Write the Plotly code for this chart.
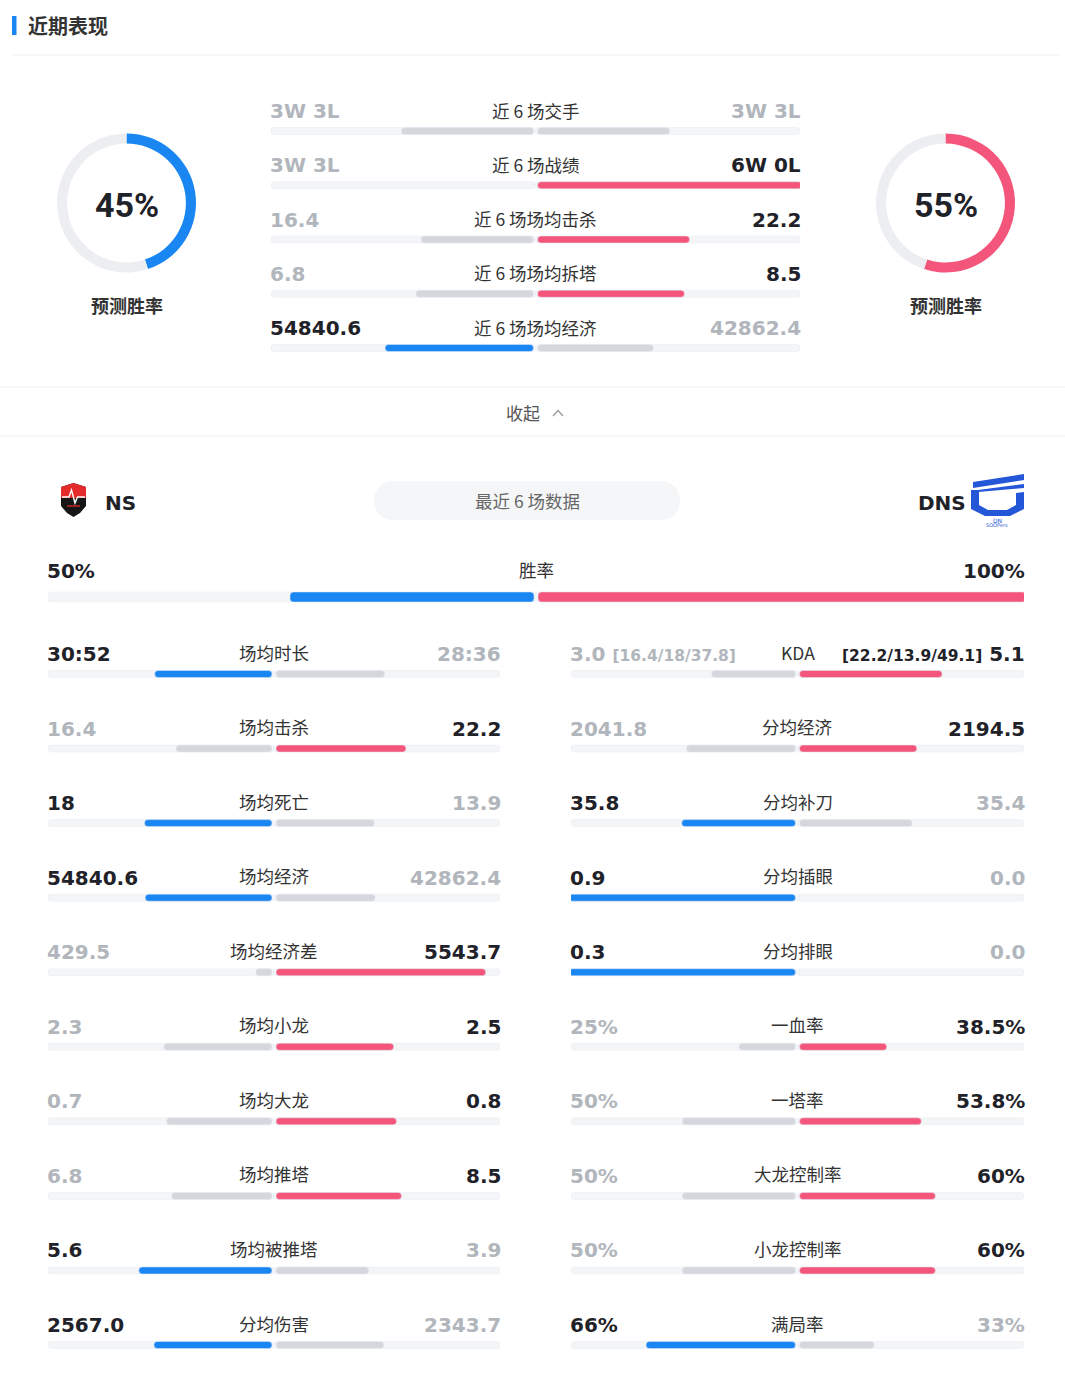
import plotly.graph_objects as go

W, H = 1065, 1375
BLUE = "#1a86f2"
PINK = "#f4557a"
GRAYBAR = "#d5d7dc"
TRACK = "#f4f5f7"
DARK = "#1f2228"
MUTED = "#b1b5bc"
LABEL = "#333333"
RING = "#eceef2"
NUMFONT = "DejaVu Sans"
CJK = "Noto Sans CJK SC"

# ---------------- data ----------------
title = "近期表现"
pred_ns = [45, 55]      # NS predicted win rate, rest
pred_dns = [55, 45]     # DNS predicted win rate, rest

top_labels = ["近 6 场交手", "近 6 场战绩", "近 6 场场均击杀", "近 6 场场均拆塔", "近 6 场场均经济"]
top_left_text = ["3W 3L", "3W 3L", "16.4", "6.8", "54840.6"]
top_right_text = ["3W 3L", "6W 0L", "22.2", "8.5", "42862.4"]
# W/L rows use net wins (W-L); other rows use the averages
top_left_value = [0, 0, 16.4, 6.8, 54840.6]
top_right_value = [0, 6, 22.2, 8.5, 42862.4]
top_mode = ["share"] * 5

team_left = "NS"
team_right = "DNS"
pill_text = "最近 6 场数据"

win_label = ["胜率"]
win_left = [50]
win_right = [100]
win_left_text = ["50%"]
win_right_text = ["100%"]

left_labels = ["场均时长", "场均击杀", "场均死亡", "场均经济", "场均经济差",
               "场均小龙", "场均大龙", "场均推塔", "场均被推塔", "分均伤害"]
left_ns = [1852, 16.4, 18, 54840.6, 429.5, 2.3, 0.7, 6.8, 5.6, 2567.0]
left_dns = [1716, 22.2, 13.9, 42862.4, 5543.7, 2.5, 0.8, 8.5, 3.9, 2343.7]
left_ns_text = ["30:52", "16.4", "18", "54840.6", "429.5", "2.3", "0.7", "6.8", "5.6", "2567.0"]
left_dns_text = ["28:36", "22.2", "13.9", "42862.4", "5543.7", "2.5", "0.8", "8.5", "3.9", "2343.7"]
left_mode = ["share"] * 10

right_labels = ["KDA", "分均经济", "分均补刀", "分均插眼", "分均排眼",
                "一血率", "一塔率", "大龙控制率", "小龙控制率", "满局率"]
right_ns = [3.0, 2041.8, 35.8, 0.9, 0.3, 25, 50, 50, 50, 66]
right_dns = [5.1, 2194.5, 35.4, 0.0, 0.0, 38.5, 53.8, 60, 60, 33]
right_ns_text = ["3.0", "2041.8", "35.8", "0.9", "0.3", "25%", "50%", "50%", "50%", "66%"]
right_dns_text = ["5.1", "2194.5", "35.4", "0.0", "0.0", "38.5%", "53.8%", "60%", "60%", "33%"]
right_mode = ["share"] * 5 + ["pct"] * 5
kda_ns_detail = "[16.4/18/37.8]"
kda_dns_detail = "[22.2/13.9/49.1]"

# ---------------- helpers ----------------
def pxx(x):
    return x / W


def pyy(y):
    return 1 - y / H


def shares(l, r, mode):
    if mode == "pct":
        return l / 100.0, r / 100.0
    s = l + r
    if s == 0:
        return 0.5, 0.5
    return l / s, r / s


fig = go.Figure()
annotations = []
shapes = []


def setup_axes(xi, yi, x0, x1, yc0=None, step=None, n=None):
    xk = "xaxis" if xi == 1 else f"xaxis{xi}"
    yk = "yaxis" if yi == 1 else f"yaxis{yi}"
    yref = "y" if yi == 1 else f"y{yi}"
    xref = "x" if xi == 1 else f"x{xi}"
    fig.layout[xk] = dict(domain=[pxx(x0), pxx(x1)], range=[-1, 1], visible=False,
                          fixedrange=True, anchor=yref)
    if yc0 is not None:
        top = max(0, yc0 - step / 2)
        bot = min(H, yc0 + step * (n - 1) + step / 2)
        fig.layout[yk] = dict(domain=[pyy(bot), pyy(top)],
                              range=[(bot - yc0) / step, (top - yc0) / step],
                              visible=False, fixedrange=True, anchor=xref)
    return xref, yref


def panel(xref, yref, half_px, step, thick, labels, lv, rv, ltxt, rtxt, modes,
          val_shift, lab_shift, both_colored=False, gap_px=2):
    n = len(labels)
    rows = list(range(n))
    gap = gap_px / half_px
    width = thick / step
    ls, rs, lc, rc, ltc, rtc = [], [], [], [], [], []
    for a, b, m in zip(lv, rv, modes):
        sa, sb = shares(a, b, m)
        ls.append(sa)
        rs.append(sb)
        if both_colored:
            lc.append(BLUE); rc.append(PINK); ltc.append(DARK); rtc.append(DARK)
        else:
            lc.append(BLUE if a > b else GRAYBAR)
            rc.append(PINK if b > a else GRAYBAR)
            ltc.append(DARK if a > b else MUTED)
            rtc.append(DARK if b > a else MUTED)
    common = dict(orientation="h", y=rows, width=[width] * n, xaxis=xref, yaxis=yref,
                  hoverinfo="skip", showlegend=False)
    fig.add_trace(go.Bar(x=[-1] * n, base=[0] * n, marker=dict(color=TRACK, cornerradius=3), **common))
    fig.add_trace(go.Bar(x=[1] * n, base=[0] * n, marker=dict(color=TRACK, cornerradius=3), **common))
    fig.add_trace(go.Bar(x=[-s for s in ls], base=[-gap] * n,
                         marker=dict(color=lc, cornerradius=3.5), **common))
    fig.add_trace(go.Bar(x=rs, base=[gap] * n,
                         marker=dict(color=rc, cornerradius=3.5), **common))
    for i in rows:
        annotations.append(dict(x=-1, y=i, xref=xref, yref=yref, xanchor="left", yanchor="middle",
                                yshift=val_shift, xshift=-3, text=ltxt[i], showarrow=False,
                                font=dict(family=NUMFONT, size=20, color=ltc[i], weight="bold")))
        annotations.append(dict(x=1, y=i, xref=xref, yref=yref, xanchor="right", yanchor="middle",
                                yshift=val_shift, xshift=3, text=rtxt[i], showarrow=False,
                                font=dict(family=NUMFONT, size=20, color=rtc[i], weight="bold")))
        annotations.append(dict(x=0, y=i, xref=xref, yref=yref, xanchor="center", yanchor="middle",
                                yshift=lab_shift, text=labels[i], showarrow=False,
                                font=dict(family=CJK, size=17.5, color=LABEL)))


# ---------------- top section ----------------
TOP_STEP = 54.25
x1r, y1r = setup_axes(1, 1, 271, 800, 131, TOP_STEP, 5)
panel(x1r, y1r, 264.5, TOP_STEP, 7, top_labels, top_left_value, top_right_value,
      top_left_text, top_right_text, top_mode, 20, 21)

# donuts
for vals, color, cx in [(pred_ns, BLUE, 126.5), (pred_dns, PINK, 945.5)]:
    r = 69.5
    fig.add_trace(go.Pie(values=vals, marker=dict(colors=[color, RING]), hole=0.855,
                         sort=False, direction="clockwise", textinfo="none",
                         hoverinfo="skip", showlegend=False,
                         domain=dict(x=[pxx(cx - r), pxx(cx + r)], y=[pyy(203 + r), pyy(203 - r)])))
    annotations.append(dict(x=pxx(cx), y=pyy(205), xref="paper", yref="paper", showarrow=False,
                            text=f"{vals[0]}%", xanchor="center", yanchor="middle",
                            font=dict(family="Roboto", size=34, color=DARK, weight="bold")))
    annotations.append(dict(x=pxx(cx), y=pyy(305), xref="paper", yref="paper", showarrow=False,
                            text="预测胜率", xanchor="center", yanchor="middle",
                            font=dict(family=CJK, size=18, color=LABEL, weight="bold")))

# ---------------- win-rate row ----------------
x2r, y2r = setup_axes(2, 2, 48, 1024, 597, 40, 1)
panel(x2r, y2r, 488, 40, 10, win_label, win_left, win_right, win_left_text, win_right_text,
      ["pct"], 26, 27, both_colored=True)

# ---------------- bottom panels ----------------
BOT_STEP = (1345 - 674) / 9
x3r, y3r = setup_axes(3, 3, 48, 500, 674, BOT_STEP, 10)
panel(x3r, y3r, 226, BOT_STEP, 7, left_labels, left_ns, left_dns, left_ns_text, left_dns_text,
      left_mode, 20, 22)
x4r, _ = setup_axes(4, 3, 571, 1024)
fig.layout["xaxis4"].anchor = "y3"
kda_l = right_ns_text[0] + f" <span style='font-size:15.5px'>{kda_ns_detail}</span>"
kda_r = f"<span style='font-size:15.5px'>{kda_dns_detail}</span> " + right_dns_text[0]
r_ltxt = [kda_l] + right_ns_text[1:]
r_rtxt = [kda_r] + right_dns_text[1:]
panel(x4r, y3r, 226, BOT_STEP, 7, right_labels, right_ns, right_dns, r_ltxt, r_rtxt,
      right_mode, 20, 22)

# ---------------- decorations ----------------
def path(pts, close=True):
    s = "M " + " L ".join(f"{pxx(x):.5f},{pyy(y):.5f}" for x, y in pts)
    return s + (" Z" if close else "")


# title bar + title
shapes.append(dict(type="rect", xref="paper", yref="paper", x0=pxx(12), x1=pxx(16.5),
                   y0=pyy(35), y1=pyy(16), fillcolor=BLUE, line=dict(width=0)))
annotations.append(dict(x=pxx(26), y=pyy(25), xref="paper", yref="paper", showarrow=False,
                        text=title, xanchor="left", yanchor="middle",
                        font=dict(family=CJK, size=20, color=LABEL, weight="bold")))
# separators
for y, xa, xb in [(55, 12, 1060), (387, 0, 1065), (436, 0, 1065)]:
    shapes.append(dict(type="line", xref="paper", yref="paper", x0=pxx(xa), x1=pxx(xb),
                       y0=pyy(y), y1=pyy(y), line=dict(color="#eff0f3", width=1.2)))
# collapse
annotations.append(dict(x=pxx(523), y=pyy(412), xref="paper", yref="paper", showarrow=False,
                        text="收起", xanchor="center", yanchor="middle",
                        font=dict(family=CJK, size=17, color="#555555")))
shapes.append(dict(type="path", xref="paper", yref="paper",
                   path=path([(553, 416), (558, 410.5), (563, 416)], close=False),
                   line=dict(color="#9a9a9a", width=1.3)))

# pill
def pill(x0, x1, y0, y1):
    r = (y1 - y0) / 2
    k = 4 / 3 * r
    a, b = x0 + r, x1 - r
    return (f"M {pxx(a)},{pyy(y0)} L {pxx(b)},{pyy(y0)} "
            f"C {pxx(b + k)},{pyy(y0)} {pxx(b + k)},{pyy(y1)} {pxx(b)},{pyy(y1)} "
            f"L {pxx(a)},{pyy(y1)} "
            f"C {pxx(a - k)},{pyy(y1)} {pxx(a - k)},{pyy(y0)} {pxx(a)},{pyy(y0)} Z")


shapes.append(dict(type="path", xref="paper", yref="paper", path=pill(374, 680, 481, 520),
                   fillcolor="#f5f6f8", line=dict(width=0)))
annotations.append(dict(x=pxx(527), y=pyy(500), xref="paper", yref="paper", showarrow=False,
                        text=pill_text, xanchor="center", yanchor="middle",
                        font=dict(family=CJK, size=17.5, color="#666666")))

# NS logo
shapes.append(dict(type="path", xref="paper", yref="paper",
                   path=path([(61, 487), (73.5, 483), (86, 487), (86, 506), (80, 513), (73.5, 517),
                              (67, 513), (61, 506)]),
                   fillcolor="#161616", line=dict(width=0)))
shapes.append(dict(type="path", xref="paper", yref="paper",
                   path=path([(61, 487), (73.5, 483), (86, 487), (86, 498), (61, 498)]),
                   fillcolor="#e32b2b", line=dict(width=0)))
shapes.append(dict(type="path", xref="paper", yref="paper",
                   path=path([(62, 497), (69, 497), (71.5, 490), (75, 503), (77.5, 497), (85, 497)], close=False),
                   line=dict(color="white", width=1.4)))
shapes.append(dict(type="line", xref="paper", yref="paper", x0=pxx(67), x1=pxx(80),
                   y0=pyy(506), y1=pyy(506), line=dict(color="#c0262b", width=1.5)))
annotations.append(dict(x=pxx(103), y=pyy(503), xref="paper", yref="paper", showarrow=False,
                        text=team_left, xanchor="left", yanchor="middle",
                        font=dict(family=NUMFONT, size=20, color=DARK, weight="bold")))

# DNS logo
DB = "#2456d8"
shapes.append(dict(type="path", xref="paper", yref="paper",
                   path=path([(973, 482), (1024, 474), (1024, 480), (973, 488)]),
                   fillcolor=DB, line=dict(width=0)))
shapes.append(dict(type="path", xref="paper", yref="paper",
                   path=path([(978, 490), (1024, 484), (1024, 488), (978, 492)]),
                   fillcolor=DB, line=dict(width=0)))
shapes.append(dict(type="path", xref="paper", yref="paper",
                   path=path([(971, 490), (979, 490), (979, 505), (988, 510), (1007, 510), (1016, 505),
                              (1016, 493), (1024, 492), (1024, 509), (1010, 516), (985, 516), (971, 509)]),
                   fillcolor=DB, line=dict(width=0)))
annotations.append(dict(x=pxx(997), y=pyy(520), xref="paper", yref="paper", showarrow=False,
                        text="DN", xanchor="center", yanchor="middle",
                        font=dict(family=NUMFONT, size=6, color=DB)))
annotations.append(dict(x=pxx(997), y=pyy(525), xref="paper", yref="paper", showarrow=False,
                        text="SOOPers", xanchor="center", yanchor="middle",
                        font=dict(family=NUMFONT, size=5, color=DB)))
annotations.append(dict(x=pxx(968), y=pyy(503), xref="paper", yref="paper", showarrow=False,
                        text=team_right, xanchor="right", yanchor="middle",
                        font=dict(family=NUMFONT, size=20, color=DARK, weight="bold")))

fig.update_layout(width=W, height=H, margin=dict(l=0, r=0, t=0, b=0),
                  paper_bgcolor="white", plot_bgcolor="rgba(0,0,0,0)",
                  barmode="overlay", showlegend=False,
                  annotations=annotations, shapes=shapes)
fig.write_html("out.html", config={"displayModeBar": False},
               post_script="document.body.style.margin='0';document.body.style.overflow='hidden';")
